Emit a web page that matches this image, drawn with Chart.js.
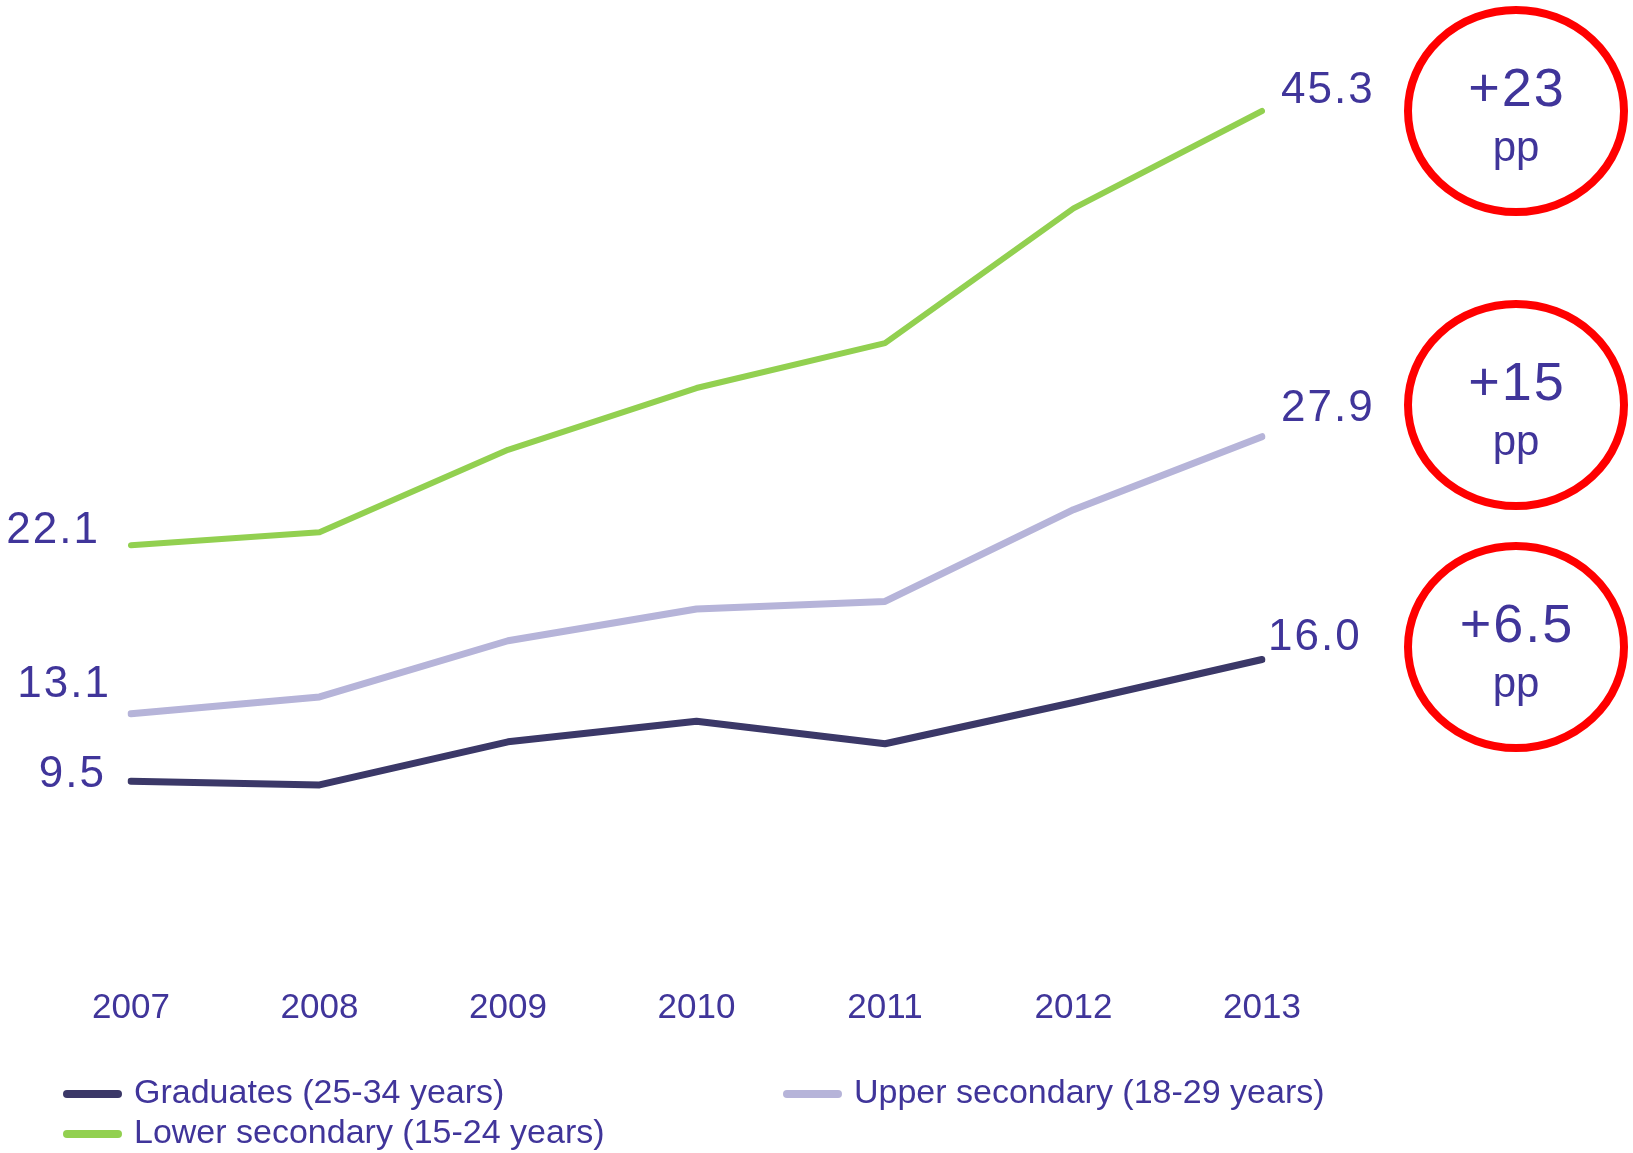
<!DOCTYPE html>
<html>
<head>
<meta charset="utf-8">
<script src="https://cdn.jsdelivr.net/npm/chart.js@4.4.1/dist/chart.umd.min.js"></script>
<style>
  body { margin: 0; background: #fff; }
  #wrap { position: absolute; left: 0; top: 0; width: 1633px; height: 1153px; }
</style>
</head>
<body>
<div id="wrap"><canvas id="chart" width="1633" height="1153"></canvas></div>
<script>
var years = ['2007', '2008', '2009', '2010', '2011', '2012', '2013'];
var graduates = [9.5, 9.3, 11.6, 12.7, 11.5, 13.7, 16.0];
var upperSecondary = [13.1, 14.0, 17.0, 18.7, 19.1, 24.0, 27.9];
var lowerSecondary = [22.1, 22.8, 27.2, 30.5, 32.9, 40.1, 45.3];
var seriesNames = ['Graduates (25-34 years)', 'Upper secondary (18-29 years)', 'Lower secondary (15-24 years)'];
var changes = ['+6.5', '+15', '+23'];

var textColor = '#40359a';
var colors = ['#3b3868', '#b6b4d9', '#92d050'];

// where the end labels sit relative to their point [first dx, dy, last dx, dy]
var labelOffsets = [
  [-25, -6, 6, -22],
  [-20, -29, 19, -28],
  [-31, -14, 19, -20]
];
// circles: center y
var circleY = [647, 405, 111];

var endLabels = {
  id: 'endLabels',
  afterDatasetsDraw: function(chart){
    var ctx = chart.ctx;
    ctx.save();
    ctx.fillStyle = textColor;
    ctx.font = '44px "Liberation Sans"';
    ctx.letterSpacing = '2px';
    ctx.textBaseline = 'middle';
    chart.data.datasets.forEach(function(ds, i){
      var meta = chart.getDatasetMeta(i);
      var first = meta.data[0], last = meta.data[meta.data.length - 1];
      var off = labelOffsets[i];
      ctx.textAlign = 'right';
      ctx.fillText(ds.data[0].toFixed(1), first.x + off[0], first.y + off[1]);
      ctx.textAlign = 'left';
      ctx.fillText(ds.data[ds.data.length - 1].toFixed(1), last.x + off[2], last.y + off[3]);
    });
    ctx.restore();
  }
};

var circles = {
  id: 'circles',
  afterDraw: function(chart){
    var ctx = chart.ctx;
    ctx.save();
    for (var i = 0; i < changes.length; i++) {
      var cy = circleY[i];
      ctx.beginPath();
      ctx.ellipse(1516, cy, 108, 101, 0, 0, Math.PI * 2);
      ctx.strokeStyle = '#ff0000';
      ctx.lineWidth = 8;
      ctx.stroke();
      ctx.fillStyle = textColor;
      ctx.textAlign = 'center';
      ctx.textBaseline = 'alphabetic';
      ctx.font = '54px "Liberation Sans"';
      ctx.letterSpacing = '2px';
      ctx.fillText(changes[i], 1517, cy - 5);
      ctx.font = '42px "Liberation Sans"';
      ctx.letterSpacing = '0px';
      ctx.fillText('pp', 1516, cy + 50);
    }
    ctx.restore();
  }
};

var legendBox = {
  id: 'legendBox',
  afterDraw: function(chart){
    var ctx = chart.ctx;
    var spots = [[63, 1094], [783, 1094], [63, 1134]];
    ctx.save();
    ctx.font = '34px "Liberation Sans"';
    ctx.textBaseline = 'middle';
    ctx.textAlign = 'left';
    ctx.lineCap = 'round';
    chart.data.datasets.forEach(function(ds, i){
      var s = spots[i];
      ctx.beginPath();
      ctx.moveTo(s[0] + 4, s[1]);
      ctx.lineTo(s[0] + 55, s[1]);
      ctx.strokeStyle = ds.borderColor;
      ctx.lineWidth = 8;
      ctx.stroke();
      ctx.fillStyle = textColor;
      ctx.fillText(ds.label, s[0] + 71, s[1]);
    });
    ctx.restore();
  }
};

var chart = new Chart(document.getElementById('chart'), {
  type: 'line',
  data: {
    labels: years,
    datasets: [
      { label: seriesNames[0], data: graduates, borderColor: colors[0], borderWidth: 7 },
      { label: seriesNames[1], data: upperSecondary, borderColor: colors[1], borderWidth: 7 },
      { label: seriesNames[2], data: lowerSecondary, borderColor: colors[2], borderWidth: 6 }
    ]
  },
  options: {
    responsive: false,
    animation: false,
    layout: { padding: { left: 131, right: 371, top: 23, bottom: 0 } },
    elements: {
      point: { radius: 0 },
      line: { tension: 0, borderCapStyle: 'round', borderJoinStyle: 'round', fill: false }
    },
    plugins: {
      legend: { display: false },
      tooltip: { enabled: false }
    },
    scales: {
      x: {
        offset: false,
        grid: { display: false, drawTicks: false },
        border: { display: false },
        ticks: { color: textColor, font: { family: 'Liberation Sans', size: 35 }, padding: 28, maxRotation: 0 },
        afterFit: function(scale){ scale.height = 194; }
      },
      y: {
        display: false,
        min: 0,
        max: 50
      }
    }
  },
  plugins: [endLabels, circles, legendBox]
});
</script>
</body>
</html>
